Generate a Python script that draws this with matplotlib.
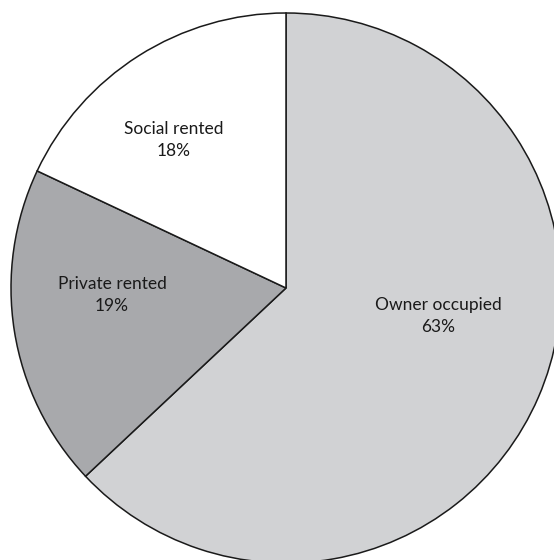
import matplotlib
matplotlib.use("Agg")
import matplotlib.pyplot as plt

labels = ["Owner occupied", "Private rented", "Social rented"]
shares = [63, 19, 18]
colors = ["#d1d2d4", "#a8a9ac", "#ffffff"]

# label anchor points (pixel space, y up)
label_xy = [(438, 244), (112, 265), (174, 420)]

plt.rcParams["font.family"] = ["Lato", "DejaVu Sans"]


def main():
    fig = plt.figure(figsize=(5.54, 5.60), dpi=100)
    ax = fig.add_axes([0, 0, 1, 1])

    ax.pie(
        shares,
        colors=colors,
        startangle=90,
        counterclock=False,
        center=(286, 272),
        radius=275,
        wedgeprops=dict(edgecolor="#1a1a1a", linewidth=1.1),
        frame=True,
    )

    for name, pct, (x, y) in zip(labels, shares, label_xy):
        ax.text(x, y, f"{name}\n{pct}%", ha="center", va="center",
                fontsize=12.5, color="#1a1a1a", linespacing=1.4)

    ax.set_xlim(0, 554)
    ax.set_ylim(0, 560)
    ax.set_aspect("equal")
    ax.axis("off")

    fig.savefig("out.png", dpi=100)


if __name__ == "__main__":
    main()
